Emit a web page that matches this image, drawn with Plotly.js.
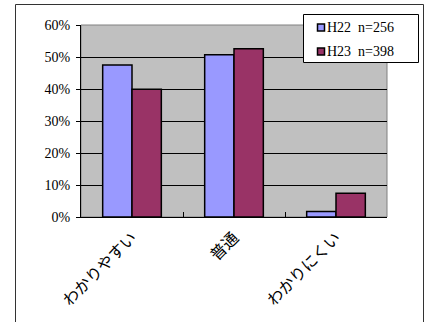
<!DOCTYPE html>
<html>
<head>
<meta charset="utf-8">
<script src="https://cdn.plot.ly/plotly-3.0.1.min.js"></script>
<style>html,body{margin:0;padding:0;background:#fff;}#chart{width:429px;height:322px;}</style>
</head>
<body>
<div id="chart"></div>
<script>
// Data
var categories = ["わかりやすい", "普通", "わかりにくい"];
var seriesNames = ["H22  n=256", "H23  n=398"];
var valuesH22 = [0.475, 0.507, 0.017];
var valuesH23 = [0.399, 0.526, 0.074];
var seriesColors = ["#9999ff", "#993366"];

// Layout geometry (pixels)
var W = 429, Hh = 322;
var L = 81, R = 42, T = 25, B = 105;
var PW = W - L - R, PH = Hh - T - B;
function X(px) { return (px - L) / PW; }
function Y(py) { return (T + PH - py) / PH; }

var numFont = "Liberation Serif, Noto Sans CJK JP, serif";
var cjkFont = "Noto Sans CJK JP, sans-serif";

var traces = [valuesH22, valuesH23].map(function (vals, i) {
  return {
    type: "bar",
    x: categories,
    y: vals,
    name: seriesNames[i],
    marker: { color: seriesColors[i], line: { color: "#000", width: 1.5 } },
    showlegend: false,
    hoverinfo: "skip"
  };
});

var shapes = [
  // plot area border
  { type: "rect", xref: "paper", yref: "paper", x0: 0, x1: 1, y0: 0, y1: 1,
    line: { color: "#808080", width: 1 }, fillcolor: "rgba(0,0,0,0)", layer: "below" },
  // outer chart border
  { type: "rect", xref: "paper", yref: "paper", x0: X(15.5), x1: X(423.5), y0: Y(340), y1: Y(4.5),
    line: { color: "#333", width: 1 }, fillcolor: "rgba(0,0,0,0)", layer: "above" },
  // legend box
  { type: "rect", xref: "paper", yref: "paper", x0: X(303.5), x1: X(418.5), y0: Y(62.5), y1: Y(14.5),
    line: { color: "#000", width: 1 }, fillcolor: "#fff", layer: "above" }
];
var annotations = [];
var legendY = [27.5, 51.5];
seriesNames.forEach(function (nm, i) {
  var cy = legendY[i];
  shapes.push({ type: "rect", xref: "paper", yref: "paper",
    x0: X(317.5), x1: X(324.5), y0: Y(cy + 3.5), y1: Y(cy - 3.5),
    line: { color: "#000", width: 1.5 }, fillcolor: seriesColors[i], layer: "above" });
  annotations.push({ xref: "paper", yref: "paper", x: X(325), y: Y(cy),
    xanchor: "left", yanchor: "middle", showarrow: false, text: nm,
    font: { family: numFont, size: 14, color: "#000" } });
});

var layout = {
  width: W, height: Hh,
  margin: { l: L, r: R, t: T, b: B, pad: 0 },
  paper_bgcolor: "#fff",
  plot_bgcolor: "#c0c0c0",
  barmode: "group",
  bargap: 0.425,
  bargroupgap: 0,
  showlegend: false,
  xaxis: {
    type: "category",
    showline: true, linecolor: "#000", linewidth: 1,
    ticks: "inside", tickson: "boundaries", ticklen: 5, tickcolor: "#000",
    tickangle: -45,
    ticklabelstandoff: 4,
    tickfont: { family: cjkFont, size: 16, color: "#000" },
    showgrid: false, zeroline: false, fixedrange: true
  },
  yaxis: {
    range: [0, 0.6], dtick: 0.1, tick0: 0, tickformat: ".0%",
    showline: true, linecolor: "#000", linewidth: 1,
    ticks: "outside", ticklen: 4, tickcolor: "#000",
    ticklabelstandoff: 3,
    showgrid: true, gridcolor: "#000", gridwidth: 1,
    zeroline: false,
    tickfont: { family: numFont, size: 14, color: "#000" },
    fixedrange: true
  },
  shapes: shapes,
  annotations: annotations
};

Plotly.newPlot("chart", traces, layout, { displayModeBar: false, staticPlot: true });
</script>
</body>
</html>
